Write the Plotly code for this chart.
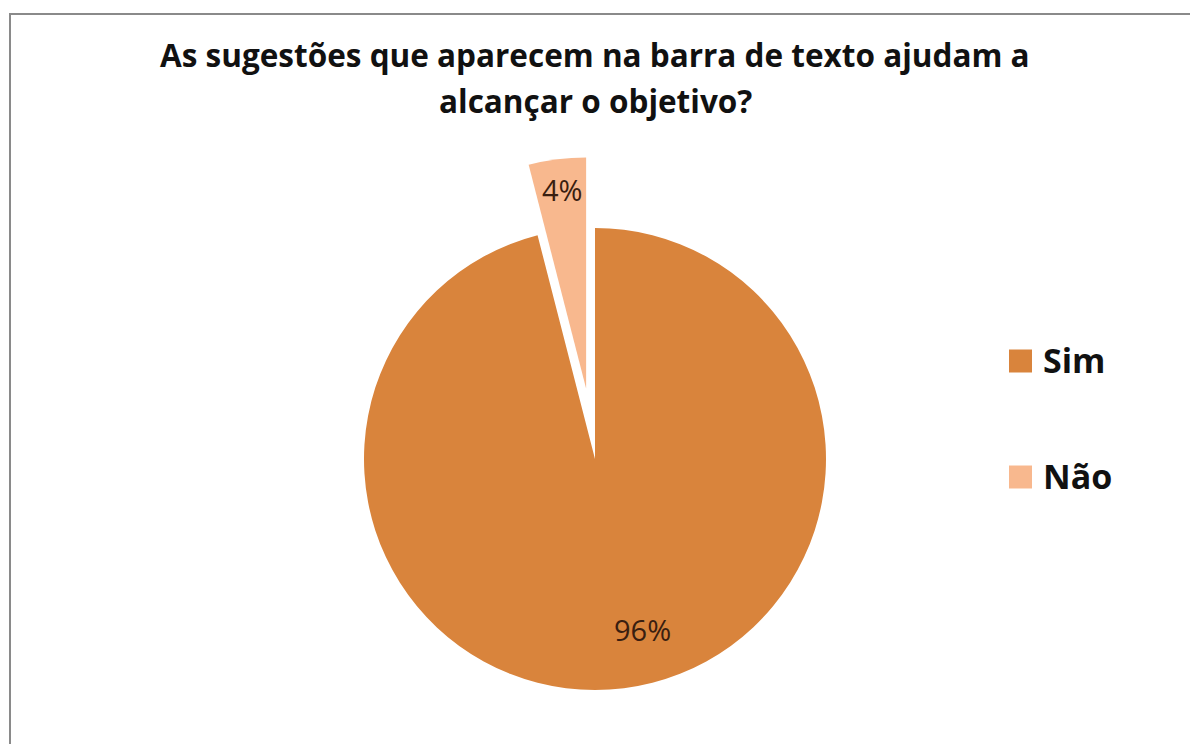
import math
import plotly.graph_objects as go

# Survey answers
labels = ["Sim", "Não"]
values = [96, 4]
colors = ["#D9843C", "#F8B88E"]
title_lines = ["As sugestões que aparecem na barra de texto ajudam a", "alcançar o objetivo?"]

W, H = 1190, 744
FONT = "Open Sans"
LABEL_COLOR = "#3a1e10"

# Pie geometry in pixels: centre and radius of the main disc,
# and the outward offset of the exploded "Não" slice.
cx, cy, r = 595, 459, 231
explode = 71

total = sum(values)
shares = [v / total for v in values]

# Direction of the exploded slice: middle of the last slice (clockwise from 12 o'clock)
mid = 2 * math.pi * (sum(shares[:-1]) + shares[-1] / 2)
dx, dy = explode * math.sin(mid), -explode * math.cos(mid)


def domain(cx_px, cy_px):
    return dict(
        x=[(cx_px - r) / W, (cx_px + r) / W],
        y=[1 - (cy_px + r) / H, 1 - (cy_px - r) / H],
    )


fig = go.Figure()

# Main disc: only "Sim" is painted
fig.add_trace(go.Pie(
    labels=labels, values=values, sort=False, direction="clockwise", rotation=0,
    domain=domain(cx, cy),
    marker=dict(colors=[colors[0], "rgba(0,0,0,0)"], line=dict(width=0)),
    textinfo="none", showlegend=False, hoverinfo="label+percent",
))

# Exploded "Não" slice, drawn from the same values on a shifted disc
fig.add_trace(go.Pie(
    labels=labels, values=values, sort=False, direction="clockwise", rotation=0,
    domain=domain(cx + dx, cy + dy),
    marker=dict(colors=["rgba(0,0,0,0)", colors[1]], line=dict(width=0)),
    textinfo="none", showlegend=False, hoverinfo="label+percent",
))

annotations = []
shapes = []

# Percentage labels, text taken from the values
label_pos = [(642, 629), (562, 189)]
for share, (px, py) in zip(shares, label_pos):
    annotations.append(dict(
        text=f"{share:.0%}", xref="paper", yref="paper",
        x=px / W, y=1 - py / H, xanchor="center", yanchor="middle",
        showarrow=False, font=dict(family=FONT, size=29, color=LABEL_COLOR),
    ))

# Two-line bold title
for line, ty in zip(title_lines, [54, 100]):
    annotations.append(dict(
        text=f"<b>{line}</b>", xref="paper", yref="paper",
        x=0.5, y=1 - ty / H, xanchor="center", yanchor="middle",
        showarrow=False, font=dict(family=FONT, size=31.5, color="#111111"),
    ))

# Legend drawn as swatches and bold labels on the right
legend_x, legend_y = 1009, [361, 477]
sw = 23
for lab, col, ly in zip(labels, colors, legend_y):
    shapes.append(dict(
        type="rect", xref="paper", yref="paper",
        x0=legend_x / W, x1=(legend_x + sw) / W,
        y0=1 - (ly + sw / 2) / H, y1=1 - (ly - sw / 2) / H,
        fillcolor=col, line=dict(width=0),
    ))
    annotations.append(dict(
        text=f"<b>{lab}</b>", xref="paper", yref="paper",
        x=(legend_x + sw + 9) / W, y=1 - (ly - 1) / H, xanchor="left", yanchor="middle",
        showarrow=False, font=dict(family=FONT, size=34, color="#111111"),
    ))

# Chart frame
shapes.append(dict(
    type="rect", xref="paper", yref="paper",
    x0=10 / W, x1=1.02, y0=-0.02, y1=1 - 14 / H,
    line=dict(color="#8a8a8a", width=2), fillcolor="rgba(0,0,0,0)", layer="below",
))

fig.update_layout(
    width=W, height=H,
    margin=dict(l=0, r=0, t=0, b=0),
    paper_bgcolor="white", plot_bgcolor="white",
    shapes=shapes, annotations=annotations,
    showlegend=False,
)

fig.write_html("out.html")
